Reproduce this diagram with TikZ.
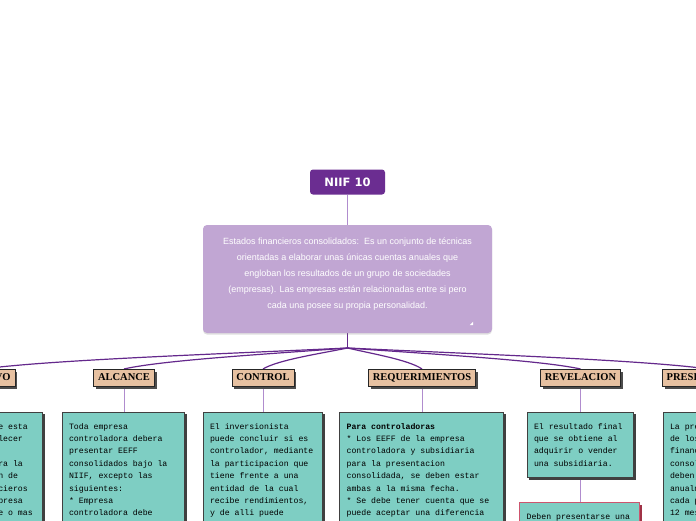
\documentclass[tikz,border=0pt]{standalone}
\usepackage{fontspec}
\newfontfamily\descfnt{Liberation Sans}
\newfontfamily\cmono{Liberation Mono}
\newfontfamily\headfnt{Liberation Serif}
\newfontfamily\titlefnt{DejaVu Sans}
\usetikzlibrary{calc,shadows,backgrounds}
\definecolor{niifc}{RGB}{107,45,145}
\definecolor{descc}{RGB}{193,166,211}
\definecolor{lightp}{RGB}{176,140,206}
\definecolor{darkp}{RGB}{100,40,140}
\definecolor{tanc}{RGB}{231,193,161}
\definecolor{tealc}{RGB}{126,206,195}
\definecolor{pinkc}{RGB}{205,85,110}
\definecolor{redsh}{RGB}{160,50,70}
\newcommand\ctext[3]{\parbox[c][#2][t]{#1}{\raggedright\rule{0pt}{6pt}#3}}
\newcommand\fanto[1]{\draw[darkcurve] let \p1=(br), \p2=(#1.north) in (br) .. controls ({\x1+0.35*(\x2-\x1)},{\y1-6pt}) and ({\x2+0.18*(\x1-\x2)},{\y2+9pt}) .. (#1.north);}
\tikzset{
 niifbox/.style={fill=niifc, rounded corners=3pt, text=white, font=\titlefnt\bfseries\fontsize{11.5}{13}\selectfont, minimum width=75pt, minimum height=25pt, inner sep=0pt},
 descbox/.style={fill=descc, rounded corners=4pt, text=white, inner xsep=4pt, inner ysep=10.5pt, font=\descfnt\fontsize{9}{16}\selectfont, drop shadow={opacity=0.25, shadow xshift=0pt, shadow yshift=-1.5pt}},
 headbox/.style={fill=tanc, draw=black!85, line width=0.6pt, font=\headfnt\bfseries\fontsize{10.5}{12}\selectfont, inner xsep=4.3pt, inner ysep=0pt, text height=7.2pt, text depth=1.5pt, minimum height=17.5pt, drop shadow={opacity=1, fill=black!70, shadow xshift=2.3pt, shadow yshift=-2.3pt}},
 cbase/.style={fill=tealc, line width=0.6pt, anchor=north west, inner xsep=7pt, inner ysep=11pt, font=\cmono\fontsize{8.2}{12.4}\selectfont},
 contentbox/.style={cbase, draw=black!75, drop shadow={opacity=1, fill=black!75, shadow xshift=2.3pt, shadow yshift=-2.3pt}},
 pinkbox/.style={cbase, draw=pinkc, drop shadow={opacity=1, fill=redsh, shadow xshift=2.3pt, shadow yshift=-2.3pt}},
 lightline/.style={draw=lightp, line width=0.9pt},
 darkcurve/.style={draw=darkp, line width=1.2pt},
 darkstem/.style={draw=darkp, line width=1.5pt},
}
\begin{document}
\begin{tikzpicture}[x=1pt,y=-1pt]
\useasboundingbox (0,0) rectangle (696,520);
\clip (0,0) rectangle (696,520);
% top
\node[niifbox] (niif) at (347.5,182) {NIIF 10};
\node[descbox] (desc) at (347.5,279) {\parbox[c][87pt][t]{281pt}{\centering\rule{0pt}{8.5pt}Estados financieros consolidados:\ \ Es un conjunto de técnicas\\
orientadas a elaborar unas únicas cuentas anuales que\\
engloban los resultados de un grupo de sociedades\\
(empresas). Las empresas están relacionadas entre si pero\\
cada una posee su propia personalidad.}};
\fill[white] ($(desc.south east)+(-19,-11.5)$) -- ($(desc.south east)+(-19,-8)$) -- ($(desc.south east)+(-22.5,-8)$) -- cycle;
\coordinate (br) at (347.5,348);
% headers
\node[headbox] (obj) at (-16.5,378) {OBJETIVO};
\node[headbox] (alc) at (124,378) {ALCANCE};
\node[headbox] (con) at (263,378) {CONTROL};
\node[headbox] (req) at (422,378) {REQUERIMIENTOS};
\node[headbox] (rev) at (580.5,378) {REVELACION};
\node[headbox] (pres) at (708,378) {PRESENTACION};
% content boxes
\node[contentbox] (objbox) at (-73,411.7) {\ctext{101pt}{150pt}{El objetivo de esta\\NIIF es establecer\\principios\\requeridos para la\\la preparacion de\\estados financieros\\cuando una empresa\\domina un ente o mas}};
\node[contentbox] (alcbox) at (61.7,411.7) {\ctext{108.6pt}{150pt}{Toda empresa\\controladora debera\\presentar EEFF\\consolidados bajo la\\NIIF, excepto las\\siguientes:\\{}* Empresa\\controladora debe}};
\node[contentbox] (conbox) at (202.7,411.7) {\ctext{105.6pt}{150pt}{El inversionista\\puede concluir si es\\controlador, mediante\\la participacion que\\tiene frente a una\\entidad de la cual\\recibe rendimientos,\\y de alli puede}};
\node[contentbox] (reqbox) at (339.3,411.7) {\ctext{150pt}{150pt}{\textbf{Para controladoras}\\{}* Los EEFF de la empresa\\controladora y subsidiaria\\para la presentacion\\consolidada, se deben estar\\ambas a la misma fecha.\\{}* Se debe tener cuenta que se\\puede aceptar una diferencia}};
\node[contentbox] (revbox) at (526.7,411.7) {\ctext{92.3pt}{43.6pt}{El resultado final\\que se obtiene al\\adquirir o vender\\una subsidiaria.}};
\node[pinkbox] (revbox2) at (519.3,502) {\ctext{106pt}{150pt}{Deben presentarse una}};
\node[contentbox] (presbox) at (662.7,411.7) {\ctext{108pt}{150pt}{La presentacion\\de los estados\\financieros\\consolidados\\deben realizarse\\anualmente, en\\cada periodo de\\12 meses.}};
% connectors
\begin{scope}[on background layer]
\fill[white] (0,0) rectangle (696,520);
\draw[lightline] (niif.south) -- (desc.north);
\draw[darkstem] (desc.south) -- (br);
\fanto{obj}
\fanto{alc}
\fanto{con}
\fanto{req}
\fanto{rev}
\fanto{pres}
\draw[lightline] (alc.south) -- (alc.south |- alcbox.north);
\draw[lightline] (con.south) -- (con.south |- conbox.north);
\draw[lightline] (req.south) -- (req.south |- reqbox.north);
\draw[lightline] (rev.south) -- (rev.south |- revbox.north);
\draw[lightline] (rev.south |- revbox.south) -- (rev.south |- revbox2.north);
\end{scope}
\end{tikzpicture}
\end{document}
